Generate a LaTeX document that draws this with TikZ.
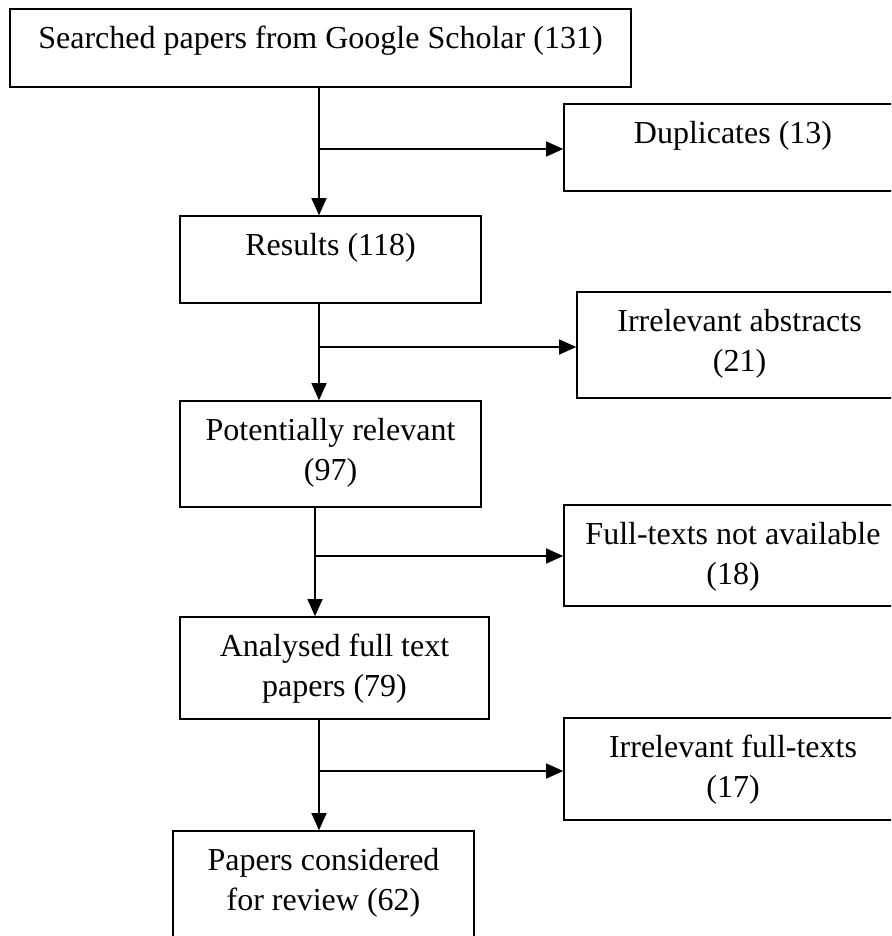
\documentclass[tikz,border=0pt]{standalone}
\usepackage{fontspec}
\setmainfont{Liberation Serif}
\usetikzlibrary{arrows.meta}
\begin{document}
\begin{tikzpicture}[x=1pt,y=-1pt,
  box/.style={draw=black, line width=1.6pt, rectangle, inner sep=0pt},
  txt/.style={font=\fontsize{32}{40}\selectfont, align=center, inner sep=0pt, anchor=north},
  conn/.style={line width=1.3pt},
  arr/.style={conn, -{Triangle[length=17pt,width=15pt]}}]
\useasboundingbox (0,0) rectangle (891,936);
\clip (0,0) rectangle (891,936);
% boxes
\node[box, minimum width=621pt, minimum height=78pt]  (b1)  at (320.5,48)  {};
\node[box, minimum width=338pt, minimum height=87pt]  (dup) at (733,147.5) {};
\node[box, minimum width=301pt, minimum height=87pt]  (res) at (330.5,259.5) {};
\node[box, minimum width=325pt, minimum height=106pt] (ia)  at (739.5,345) {};
\node[box, minimum width=301pt, minimum height=106pt] (pr)  at (330.5,454) {};
\node[box, minimum width=338pt, minimum height=101pt] (ft)  at (733,555.5) {};
\node[box, minimum width=309pt, minimum height=102pt] (an)  at (334.5,668) {};
\node[box, minimum width=338pt, minimum height=102pt] (ift) at (733,769) {};
\node[box, minimum width=301pt, minimum height=119pt] (pap) at (323.5,890.5) {};
% texts
\node[txt] (t1)  at ([yshift=-12pt]b1.north)  {\strut Searched papers from Google Scholar (131)};
\node[txt] (tdup) at ([yshift=-12pt]dup.north) {\strut Duplicates (13)};
\node[txt] (tres) at ([yshift=-12pt]res.north) {\strut Results (118)};
\node[txt] (tia)  at ([yshift=-12pt]ia.north)  {\strut Irrelevant abstracts\\\strut (21)};
\node[txt] (tpr)  at ([yshift=-12pt]pr.north)  {\strut Potentially relevant\\\strut (97)};
\node[txt] (tft)  at ([yshift=-12pt]ft.north)  {\strut Full-texts not available\\\strut (18)};
\node[txt] (tan)  at ([yshift=-12pt]an.north)  {\strut Analysed full text\\\strut papers (79)};
\node[txt] (tift) at ([yshift=-12pt]ift.north) {\strut Irrelevant full-texts\\\strut (17)};
\node[txt] (tpap) at ([yshift=-12pt]pap.north) {\strut Papers considered\\\strut for review (62)};
% junctions
\coordinate (j1) at (319,149);
\coordinate (j2) at (319,347);
\coordinate (j3) at (315,556);
\coordinate (j4) at (319,771);
% connectors
\draw[conn] (b1.south -| j1) -- (j1);
\draw[arr] (j1) -- (res.north -| j1);
\draw[arr] (j1) -- (dup.west |- j1);
\draw[conn] (res.south -| j2) -- (j2);
\draw[arr] (j2) -- (pr.north -| j2);
\draw[arr] (j2) -- (ia.west |- j2);
\draw[conn] (pr.south -| j3) -- (j3);
\draw[arr] (j3) -- (an.north -| j3);
\draw[arr] (j3) -- (ft.west |- j3);
\draw[conn] (an.south -| j4) -- (j4);
\draw[arr] (j4) -- (pap.north -| j4);
\draw[arr] (j4) -- (ift.west |- j4);
\end{tikzpicture}
\end{document}
